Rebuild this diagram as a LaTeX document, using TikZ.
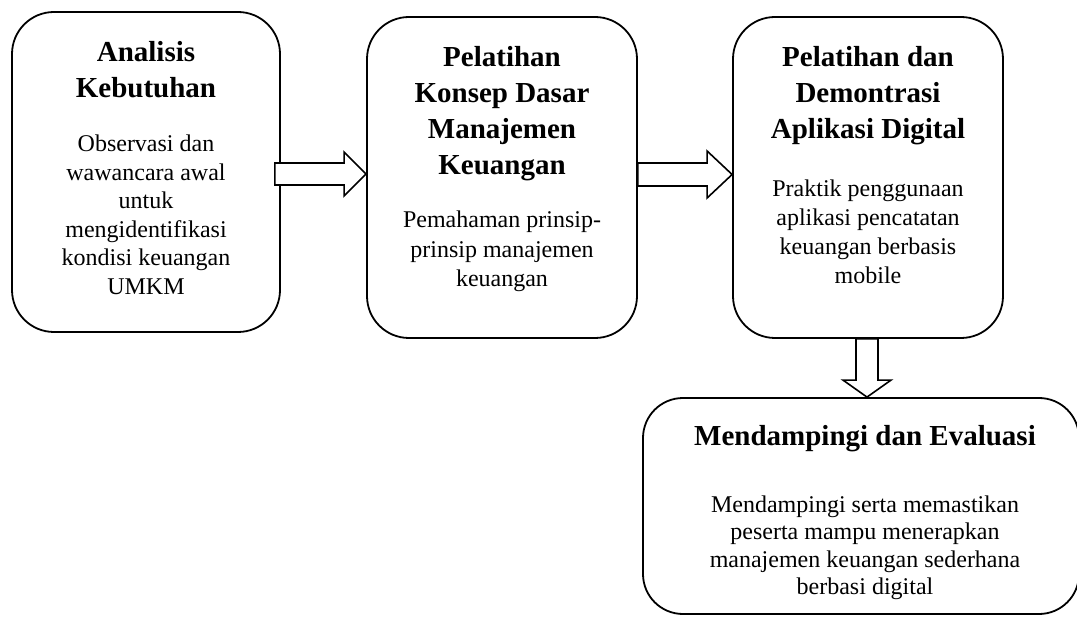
\documentclass[tikz,border=0pt]{standalone}
\usepackage{fontspec}
\setmainfont{Liberation Serif}
\usetikzlibrary{calc}
\begin{document}
\begin{tikzpicture}[x=1pt,y=-1pt,
  box/.style={draw=black, line width=1.8pt, rounded corners=42pt, fill=white, inner sep=0pt},
  ttl/.style={font=\fontsize{29}{36}\selectfont\bfseries, inner sep=0pt, anchor=base},
  bdy/.style={font=\fontsize{24}{28}\selectfont, inner sep=0pt, anchor=base},
  blk/.style={draw=black, line width=1.6pt, fill=white, line join=miter}]
\useasboundingbox (0,0) rectangle (1077,620);
% boxes
\node[box, minimum width=268pt, minimum height=320pt] (b1) at (146,172) {};
\node[box, minimum width=270pt, minimum height=321pt] (b2) at (502,177.5) {};
\node[box, minimum width=270pt, minimum height=321pt] (b3) at (868,177.5) {};
\node[box, minimum width=436pt, minimum height=216pt, rounded corners=40pt] (b4) at (861,506) {};
% box 1 text
\node[ttl] (t1a) at (146,62) {Analisis};
\node[ttl] (t1b) at (146,98) {Kebutuhan};
\node[bdy] (d1a) at (146,152) {Observasi dan};
\node[bdy] (d1b) at (146,180.5) {wawancara awal};
\node[bdy] (d1c) at (146,209) {untuk};
\node[bdy] (d1d) at (146,237.5) {mengidentifikasi};
\node[bdy] (d1e) at (146,266) {kondisi keuangan};
\node[bdy] (d1f) at (146,295) {UMKM};
% box 2 text
\node[ttl] (t2a) at (502,67) {Pelatihan};
\node[ttl] (t2b) at (502,103) {Konsep Dasar};
\node[ttl] (t2c) at (502,139) {Manajemen};
\node[ttl] (t2d) at (502,175) {Keuangan};
\node[bdy] (d2a) at (502,228) {Pemahaman prinsip-};
\node[bdy] (d2b) at (502,258) {prinsip manajemen};
\node[bdy] (d2c) at (502,287) {keuangan};
% box 3 text
\node[ttl] (t3a) at (868,67) {Pelatihan dan};
\node[ttl] (t3b) at (868,103) {Demontrasi};
\node[ttl] (t3c) at (868,139) {Aplikasi Digital};
\node[bdy] (d3a) at (868,197) {Praktik penggunaan};
\node[bdy] (d3b) at (868,226) {aplikasi pencatatan};
\node[bdy] (d3c) at (868,255) {keuangan berbasis};
\node[bdy] (d3d) at (868,284) {mobile};
% box 4 text
\node[ttl] (t4a) at (865,445) {Mendampingi dan Evaluasi};
\node[bdy] (d4a) at (865,512) {Mendampingi serta memastikan};
\node[bdy] (d4b) at (865,539.5) {peserta mampu menerapkan};
\node[bdy] (d4c) at (865,567) {manajemen keuangan sederhana};
\node[bdy] (d4d) at (865,594) {berbasi digital};
% arrow 1: b1 -> b2
\coordinate (a1s) at ($(b1.east)+(-6,0)$);
\coordinate (a1y) at (0,174);
\coordinate (a1b) at (a1s |- a1y);
\coordinate (a1e) at (b2.west |- a1y);
\draw[blk] ($(a1b)+(0,-11)$) -- ($(a1e)+(-22,-11)$) -- ($(a1e)+(-22,-22)$) -- (a1e)
  -- ($(a1e)+(-22,22)$) -- ($(a1e)+(-22,11)$) -- ($(a1b)+(0,11)$) -- cycle;
% arrow 2: b2 -> b3
\coordinate (a2y) at (0,174.5);
\coordinate (a2b) at (b2.east |- a2y);
\coordinate (a2e) at (b3.west |- a2y);
\draw[blk] ($(a2b)+(0,-11.5)$) -- ($(a2e)+(-25,-11.5)$) -- ($(a2e)+(-25,-23.5)$) -- (a2e)
  -- ($(a2e)+(-25,23.5)$) -- ($(a2e)+(-25,11.5)$) -- ($(a2b)+(0,11.5)$) -- cycle;
% arrow 3: b3 -> b4
\coordinate (a3x) at (867,0);
\coordinate (a3b) at (a3x |- b3.south);
\coordinate (a3e) at (a3x |- b4.north);
\draw[blk] ($(a3b)+(-11,0)$) -- ($(a3e)+(-11,-17)$) -- ($(a3e)+(-24,-17)$) -- (a3e)
  -- ($(a3e)+(24,-17)$) -- ($(a3e)+(11,-17)$) -- ($(a3b)+(11,0)$) -- cycle;
\end{tikzpicture}
\end{document}
